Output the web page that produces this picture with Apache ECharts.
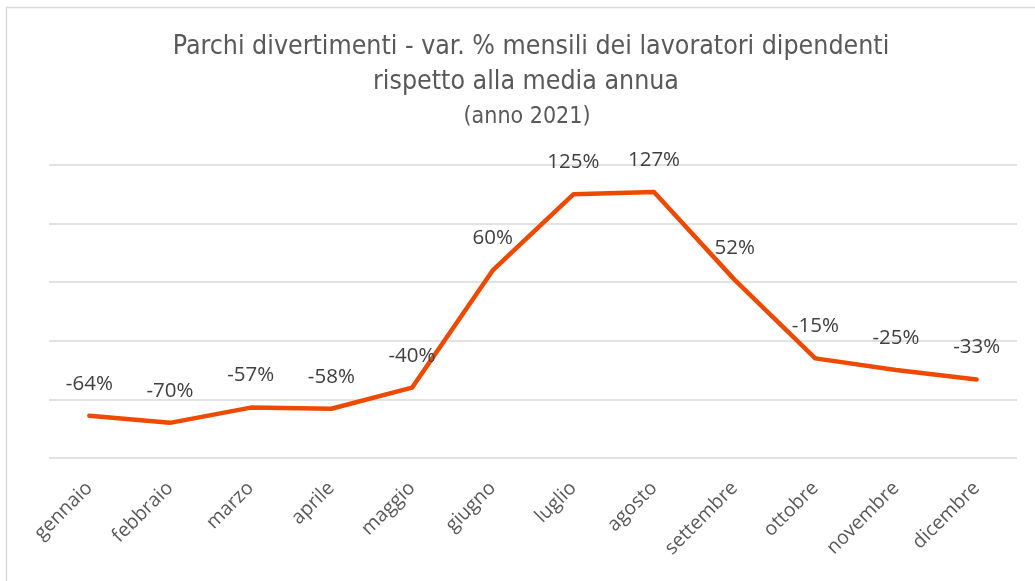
<!DOCTYPE html>
<html style="height: 100%; margin: 0">
<head>
<meta charset="UTF-8">
<title>Parchi divertimenti</title>
</head>
<body style="height: 100%; margin: 0; background: #fff">
<div id="container" style="height:100%"></div>
<script type="text/javascript" src="https://cdn.jsdelivr.net/npm/echarts@6/dist/echarts.min.js"></script>
<script type="text/javascript">
	var mesi = ['gennaio', 'febbraio', 'marzo', 'aprile', 'maggio', 'giugno',
		'luglio', 'agosto', 'settembre', 'ottobre', 'novembre', 'dicembre'];
	var variazioni = [-64, -70, -57, -58, -40, 60, 125, 127, 52, -15, -25, -33];
	var yMin = -100, yMax = 150, yStep = 50;
	var titolo = ['Parchi divertimenti - var. % mensili dei lavoratori dipendenti',
		'rispetto alla media annua', '(anno 2021)'];

	var narrow = "'Liberation Sans Narrow', 'DejaVu Sans Condensed', sans-serif";
	var dom = document.getElementById("container");
	var myChart = echarts.init(dom);
	var option = {
	    backgroundColor: '#fff',
	    graphic: [{
	        type: 'rect',
	        shape: { x: 6.5, y: 7.5, width: 1040, height: 590 },
	        style: { fill: 'none', stroke: '#d9d9d9', lineWidth: 1.5 },
	        silent: true
	    }, {
	        type: 'text', x: 531, y: 47,
	        style: { text: titolo[0], fill: '#595959', font: '26.5px ' + narrow,
	            textAlign: 'center', textVerticalAlign: 'middle' }
	    }, {
	        type: 'text', x: 526, y: 82,
	        style: { text: titolo[1], fill: '#595959', font: '26.5px ' + narrow,
	            textAlign: 'center', textVerticalAlign: 'middle' }
	    }, {
	        type: 'text', x: 527, y: 117,
	        style: { text: titolo[2], fill: '#595959', font: '23px ' + narrow,
	            textAlign: 'center', textVerticalAlign: 'middle' }
	    }],
	    grid: {
	        left: 49,
	        right: 18,
	        top: 165,
	        bottom: 123
	    },
	    xAxis: {
	        type: 'category',
	        boundaryGap: true,
	        data: mesi,
	        axisLine: { show: false },
	        axisTick: { show: false },
	        axisLabel: {
	            rotate: 45,
	            margin: 27,
	            color: '#595959',
	            fontSize: 19.5,
	            fontFamily: "'Open Sans', sans-serif",
	            interval: 0
	        }
	    },
	    yAxis: {
	        type: 'value',
	        min: yMin,
	        max: yMax,
	        interval: yStep,
	        axisLine: { show: false },
	        axisTick: { show: false },
	        axisLabel: { show: false },
	        splitLine: {
	            lineStyle: { color: '#d9d9d9', width: 1.5 }
	        }
	    },
	    series: [
	        {
	            name: 'var. %',
	            type: 'line',
	            data: variazioni,
	            symbol: 'circle',
	            symbolSize: 1,
	            showAllSymbol: true,
	            itemStyle: { color: '#ED4A00' },
	            lineStyle: {
	                color: '#ED4A00',
	                width: 4.5,
	                cap: 'round',
	                join: 'round'
	            },
	            label: {
	                show: true,
	                position: 'top',
	                distance: 21,
	                formatter: '{c}%',
	                color: '#404040',
	                fontSize: 20.5,
	                fontFamily: "'Open Sans', sans-serif"
	            }
	        }
	    ]
	};
	if (option && typeof option === "object") {
	    myChart.setOption(option, true);
	}
</script>
</body>
</html>
